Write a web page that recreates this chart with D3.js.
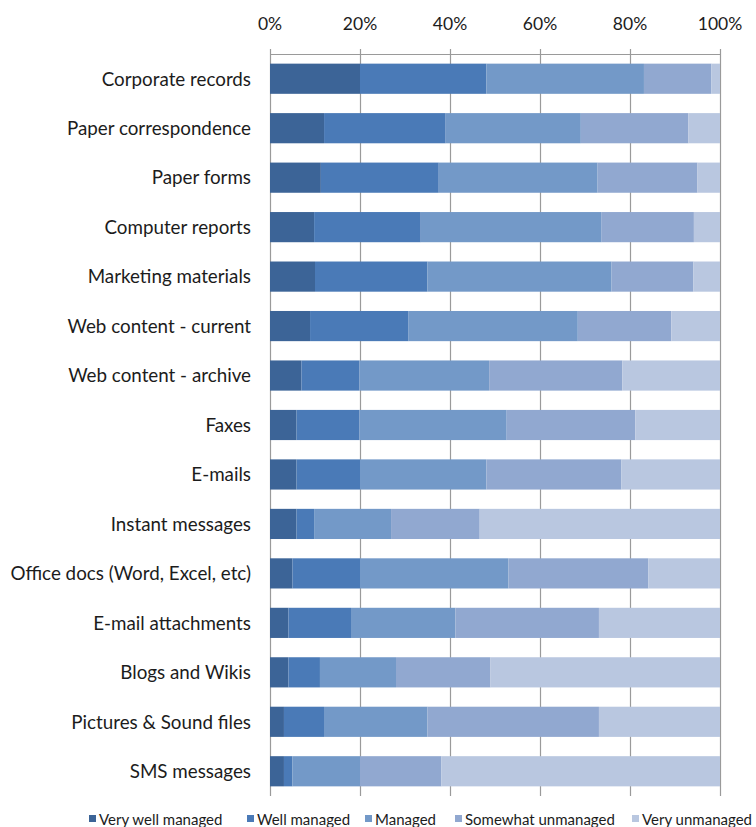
<!DOCTYPE html>
<html><head><meta charset="utf-8">
<script src="https://cdn.jsdelivr.net/npm/d3@7"></script>
<style>
body{margin:0;background:#fff;}
text{font-family:Lato,"Open Sans",sans-serif;fill:#1c1c1c;}
</style></head>
<body><svg id="c" width="756" height="827"></svg>
<script>
const categories = ["Corporate records","Paper correspondence","Paper forms","Computer reports","Marketing materials","Web content - current","Web content - archive","Faxes","E-mails","Instant messages","Office docs (Word, Excel, etc)","E-mail attachments","Blogs and Wikis","Pictures & Sound files","SMS messages"];
const seriesNames = ["Very well managed","Well managed","Managed","Somewhat unmanaged","Very unmanaged"];
const veryWell   = [20, 12, 11.3, 9.8, 10, 8.9, 7, 5.9, 5.9, 5.9, 5, 4.1, 4.1, 3.1, 3.1];
const well       = [28.1, 27, 26.2, 23.7, 25, 21.9, 12.9, 14, 14.1, 3.9, 15, 13.9, 7, 8.9, 1.9];
const managed    = [35, 30, 35.3, 40.2, 40.9, 37.6, 28.8, 32.7, 28.1, 17.1, 33, 23.2, 16.9, 23, 15];
const somewhat   = [15, 23.9, 22.2, 20.5, 18.2, 20.8, 29.6, 28.6, 30, 19.7, 31.1, 31.9, 21, 38.1, 18.1];
const veryUn     = [1.9, 7, 5, 5.8, 5.9, 10.8, 21.7, 18.8, 21.9, 53.4, 15.9, 26.9, 51, 26.9, 61.9];
const tickValues = [0, 20, 40, 60, 80, 100];
const colors = ["#3C6497","#4A7AB7","#7399C8","#91A8D0","#B9C7E0"];

const svg = d3.select("#c");
const mLeft = 270, mRight = 720, mTop = 54, mBottom = 796;
const x = d3.scaleLinear().domain([0,100]).range([mLeft,mRight]);
const y = d3.scaleBand().domain(categories).range([mTop,mBottom]).paddingInner(0.39).paddingOuter(0.195);

const table = categories.map((c,i)=>({cat:c,
  [seriesNames[0]]:veryWell[i],[seriesNames[1]]:well[i],[seriesNames[2]]:managed[i],
  [seriesNames[3]]:somewhat[i],[seriesNames[4]]:veryUn[i]}));
const stack = d3.stack().keys(seriesNames).offset(d3.stackOffsetExpand)(table);

// gridlines
svg.append("g").selectAll("line").data(tickValues).join("line")
  .attr("x1",d=>x(d)+0.5).attr("x2",d=>x(d)+0.5)
  .attr("y1",mTop-5).attr("y2",mBottom)
  .attr("stroke","#9a9a9a").attr("stroke-width",1.2);
// top axis line
svg.append("line").attr("x1",mLeft).attr("x2",mRight+1).attr("y1",mTop+0.5).attr("y2",mTop+0.5)
  .attr("stroke","#9a9a9a").attr("stroke-width",1.2);

// bars
svg.append("g").selectAll("g").data(stack).join("g")
  .attr("fill",(d,i)=>colors[i])
  .selectAll("rect").data(d=>d).join("rect")
  .attr("x",d=>x(d[0]*100)).attr("width",d=>x(d[1]*100)-x(d[0]*100))
  .attr("y",d=>y(d.data.cat)).attr("height",y.bandwidth());

// tick labels
svg.append("g").selectAll("text").data(tickValues).join("text")
  .attr("x",d=>x(d)).attr("y",30).attr("text-anchor","middle")
  .attr("font-size",17.5).text(d=>d+"%");

// category labels
svg.append("g").selectAll("text").data(categories).join("text")
  .attr("x",251).attr("y",d=>y(d)+y.bandwidth()/2).attr("dy","0.36em")
  .attr("text-anchor","end").attr("font-size",18.8).text(d=>d);

// legend
const legendX = [89, 247, 365, 455, 632];
const lg = svg.append("g").selectAll("g").data(seriesNames).join("g")
  .attr("transform",(d,i)=>`translate(${legendX[i]},0)`);
lg.append("rect").attr("x",0).attr("y",815).attr("width",7).attr("height",7).attr("fill",(d,i)=>colors[i]);
lg.append("text").attr("x",10).attr("y",824.5).attr("font-size",15).text(d=>d);
</script></body></html>
